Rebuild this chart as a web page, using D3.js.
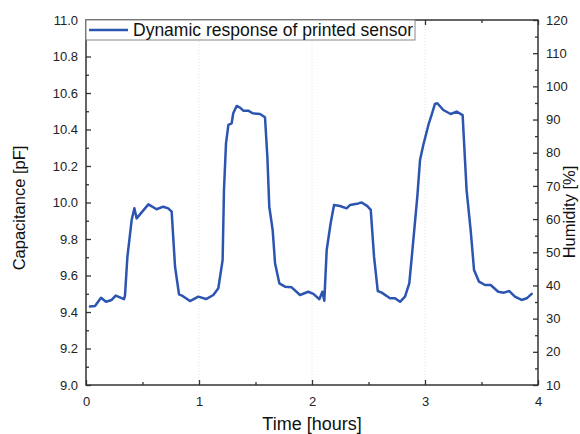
<!DOCTYPE html>
<html><head><meta charset="utf-8">
<script src="https://cdn.jsdelivr.net/npm/d3@7"></script>
<style>html,body{margin:0;padding:0;background:#fff;} text{font-family:"Liberation Sans",Arial,sans-serif;}</style>
</head><body><svg id="c" width="580" height="434"></svg>
<script>
const timeHours = [0.035,0.08,0.133,0.177,0.227,0.263,0.30,0.336,0.345,0.366,0.404,0.428,0.448,0.552,0.625,0.684,0.728,0.758,0.788,0.823,0.855,0.92,0.994,1.062,1.127,1.171,1.209,1.221,1.239,1.26,1.289,1.303,1.333,1.363,1.392,1.436,1.475,1.54,1.584,1.605,1.622,1.652,1.673,1.711,1.761,1.82,1.894,1.967,2.012,2.065,2.092,2.109,2.13,2.165,2.195,2.248,2.306,2.336,2.41,2.44,2.49,2.52,2.549,2.582,2.617,2.69,2.735,2.779,2.823,2.861,2.897,2.932,2.956,2.985,3.03,3.058,3.088,3.109,3.162,3.227,3.28,3.333,3.368,3.404,3.434,3.478,3.531,3.581,3.648,3.699,3.746,3.796,3.855,3.9,3.944];
const capacitance = [9.43,9.433,9.478,9.456,9.466,9.49,9.48,9.47,9.49,9.70,9.904,9.968,9.913,9.99,9.963,9.977,9.968,9.95,9.648,9.497,9.488,9.46,9.484,9.471,9.493,9.53,9.685,10.068,10.324,10.425,10.434,10.489,10.529,10.52,10.503,10.503,10.489,10.485,10.467,10.25,9.977,9.849,9.667,9.557,9.539,9.535,9.493,9.511,9.499,9.47,9.511,9.462,9.74,9.886,9.986,9.981,9.968,9.986,9.995,10.0,9.98,9.96,9.703,9.515,9.506,9.475,9.475,9.456,9.484,9.557,9.795,10.032,10.233,10.315,10.425,10.479,10.54,10.544,10.507,10.485,10.498,10.479,10.068,9.849,9.63,9.566,9.548,9.548,9.511,9.506,9.515,9.484,9.466,9.475,9.499];
const leftTicks = [9.0,9.2,9.4,9.6,9.8,10.0,10.2,10.4,10.6,10.8,11.0];
const rightTicks = [10,20,30,40,50,60,70,80,90,100,110,120];
const xTicks = [0,1,2,3,4];
const seriesName = "Dynamic response of printed sensor";

const svg = d3.select("#c");
const L=86,R=538,T=20,B=385;
const x = d3.scaleLinear().domain([0,4]).range([L,R]);
const y = d3.scaleLinear().domain([9,11]).range([B,T]);
const y2 = d3.scaleLinear().domain([10,120]).range([B,T]);
const axisColor="#333";

// faint dotted grid
svg.append("g").selectAll("line").data([1,2,3]).join("line")
  .attr("x1",d=>x(d)).attr("x2",d=>x(d)).attr("y1",T).attr("y2",B)
  .attr("stroke","#e0e0e0").attr("stroke-width",1).attr("stroke-dasharray","1,2");

function styleAxis(g){
  g.select(".domain").remove();
  g.selectAll(".tick line").attr("stroke",axisColor).attr("stroke-width",1.3);
  g.selectAll(".tick text").attr("fill","#222").style("font-size","13px");
}
// left
svg.append("g").attr("transform",`translate(${L},0)`)
  .call(d3.axisLeft(y).tickValues(leftTicks).tickFormat(d3.format(".1f")).tickSizeInner(-5).tickSizeOuter(0).tickPadding(8)).call(styleAxis);
svg.append("g").attr("transform",`translate(${L},0)`)
  .call(d3.axisLeft(y).tickValues(d3.range(9.1,11,0.2)).tickFormat("").tickSizeInner(-3).tickSizeOuter(0)).call(styleAxis);
// right
svg.append("g").attr("transform",`translate(${R},0)`)
  .call(d3.axisRight(y2).tickValues(rightTicks).tickSizeInner(-5).tickSizeOuter(0).tickPadding(8)).call(styleAxis);
svg.append("g").attr("transform",`translate(${R},0)`)
  .call(d3.axisRight(y2).tickValues(d3.range(15,120,10)).tickFormat("").tickSizeInner(-3).tickSizeOuter(0)).call(styleAxis);
// bottom
svg.append("g").attr("transform",`translate(0,${B})`)
  .call(d3.axisBottom(x).tickValues(xTicks).tickFormat(d3.format("d")).tickSizeInner(-5).tickSizeOuter(0).tickPadding(12)).call(styleAxis);
svg.append("g").attr("transform",`translate(0,${B})`)
  .call(d3.axisBottom(x).tickValues([0.5,1.5,2.5,3.5]).tickFormat("").tickSizeInner(-3).tickSizeOuter(0)).call(styleAxis);
// top
svg.append("g").attr("transform",`translate(0,${T})`)
  .call(d3.axisTop(x).tickValues(xTicks).tickFormat("").tickSizeInner(-5).tickSizeOuter(0)).call(styleAxis);
svg.append("g").attr("transform",`translate(0,${T})`)
  .call(d3.axisTop(x).tickValues([0.5,1.5,2.5,3.5]).tickFormat("").tickSizeInner(-3).tickSizeOuter(0)).call(styleAxis);

// frame
svg.append("rect").attr("x",L).attr("y",T).attr("width",R-L).attr("height",B-T)
  .attr("fill","none").attr("stroke",axisColor).attr("stroke-width",1.5);

// data line
const pts = timeHours.map((t,i)=>[t,capacitance[i]]);
svg.append("path").datum(pts)
  .attr("fill","none").attr("stroke","#2c55b2").attr("stroke-width",2.5)
  .attr("stroke-linejoin","round").attr("stroke-linecap","round")
  .attr("d",d3.line().x(d=>x(d[0])).y(d=>y(d[1])));

// legend
const lg = svg.append("g");
lg.append("rect").attr("x",L).attr("y",T).attr("width",329).attr("height",20)
  .attr("fill","#fff").attr("stroke","#888").attr("stroke-width",1);
lg.append("line").attr("x1",L+3).attr("x2",L+42).attr("y1",T+10).attr("y2",T+10)
  .attr("stroke","#2c55b2").attr("stroke-width",2.5);
lg.append("text").attr("x",L+47).attr("y",T+16).text(seriesName)
  .style("font-size","17.5px").attr("fill","#111");

// axis titles
svg.append("text").attr("transform",`translate(25,208) rotate(-90)`)
  .attr("text-anchor","middle").style("font-size","16.5px").attr("fill","#111").text("Capacitance [pF]");
svg.append("text").attr("transform",`translate(575,212) rotate(-90)`)
  .attr("text-anchor","middle").style("font-size","16.5px").attr("fill","#111").text("Humidity [%]");
svg.append("text").attr("x",x(2)).attr("y",430)
  .attr("text-anchor","middle").style("font-size","18px").attr("fill","#111").text("Time [hours]");
</script></body></html>
